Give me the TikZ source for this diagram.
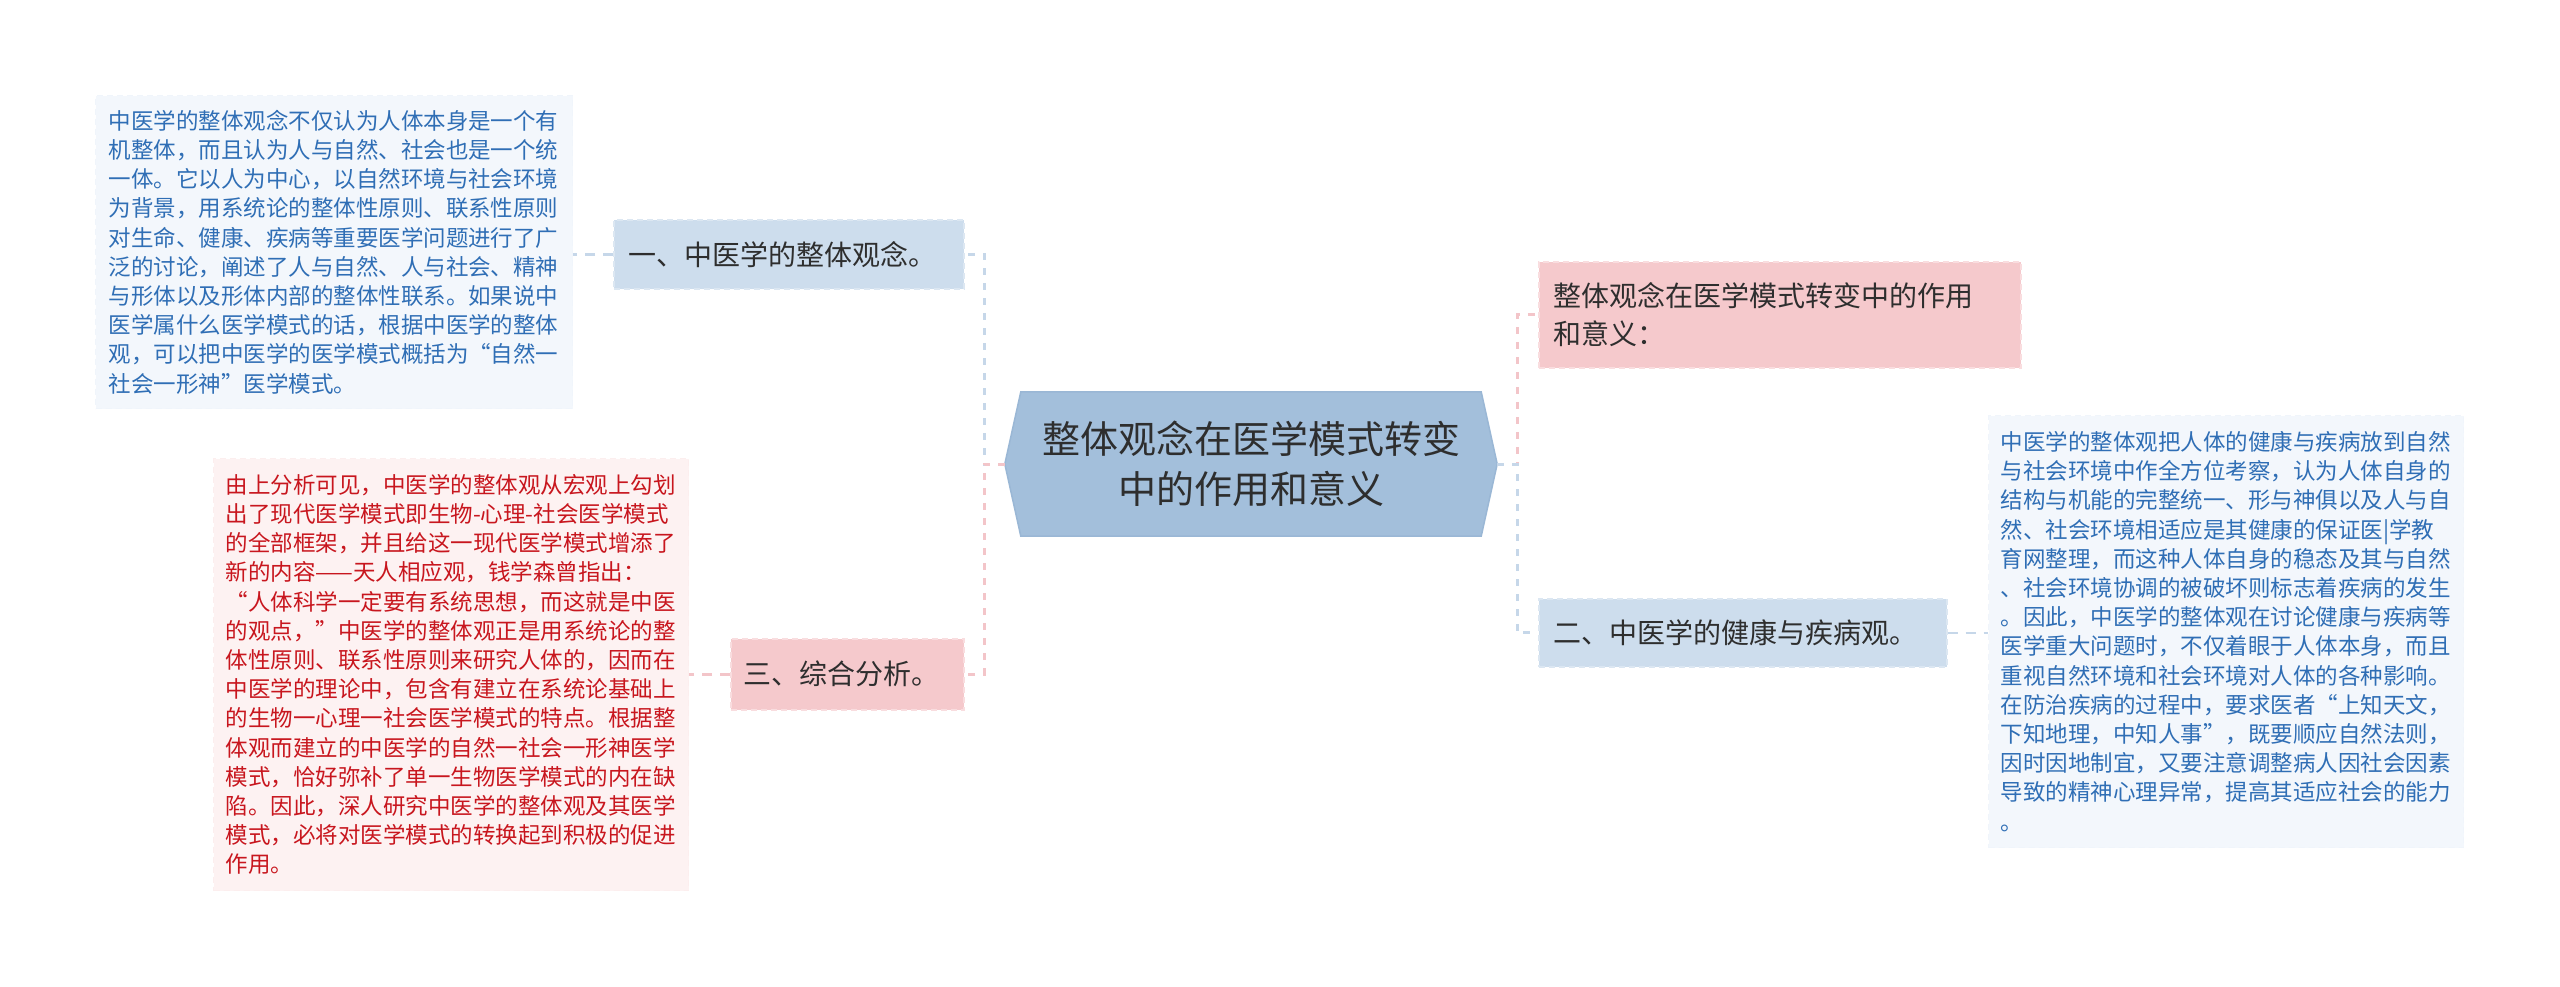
\documentclass[tikz,border=0pt]{standalone}
\usepackage{fontspec}
\setmainfont{Noto Sans CJK SC}
\usetikzlibrary{calc}
\definecolor{rootfill}{HTML}{A3BFDB}
\definecolor{rootline}{HTML}{9AB7D5}
\definecolor{bluefill}{HTML}{CDDDED}
\definecolor{blueline}{HTML}{DCE7F2}
\definecolor{pinkfill}{HTML}{F5C9CC}
\definecolor{pinkline}{HTML}{F9DDDF}
\definecolor{leafbluefill}{HTML}{F3F7FC}
\definecolor{leafblueline}{HTML}{F0F5FB}
\definecolor{leafpinkfill}{HTML}{FDF2F2}
\definecolor{leafpinkline}{HTML}{FCEEEE}
\definecolor{bluetext}{HTML}{2F6EB5}
\definecolor{redtext}{HTML}{C8161E}
\definecolor{darktext}{HTML}{2E2E2E}
\definecolor{blueconn}{HTML}{C6D7E9}
\definecolor{pinkconn}{HTML}{F3C5C9}
\pgfdeclarelayer{bg}
\pgfsetlayers{bg,main}
\begin{document}
\begin{tikzpicture}[x=1pt,y=-1pt,
  conn/.style={line width=3pt, dash pattern=on 7pt off 8pt},
  leafconn/.style={line width=2.5pt, dash pattern=on 10pt off 8pt},
  topic/.style={anchor=north west, inner xsep=15pt, inner ysep=0pt, align=left,
    font=\fontsize{28}{38}\selectfont, text=darktext, line width=1.5pt, dash pattern=on 6pt off 4pt},
  bluetopic/.style={topic, fill=bluefill, draw=blueline},
  pinktopic/.style={topic, fill=pinkfill, draw=pinkline},
  leaf/.style={anchor=north west, inner xsep=13pt, inner ysep=0pt, align=left,
    font=\fontsize{22.5}{29.2}\selectfont, line width=1pt, dash pattern=on 6pt off 4pt},
  leafblue/.style={leaf, fill=leafbluefill, draw=leafblueline, text=bluetext},
  leafpink/.style={leaf, fill=leafpinkfill, draw=leafpinkline, text=redtext},
  rootnode/.style={minimum width=492pt, minimum height=144pt, inner sep=0pt, align=center,
    font=\fontsize{38}{50}\selectfont, text=darktext}
]
\useasboundingbox (0,0) rectangle (2560,986);

% root
\node[rootnode] (root) at (1251,464) {整体观念在医学模式转变\\中的作用和意义};

% main topics
\node[bluetopic, text width=320pt, minimum height=69pt] (n1) at (613,219) {一、中医学的整体观念。};
\node[pinktopic, inner xsep=13pt, text width=207pt, minimum height=71pt] (n3) at (730,638) {三、综合分析。};
\node[pinktopic, text width=452pt, minimum height=106pt] (r1) at (1538,261) {整体观念在医学模式转变中的作用\\和意义：};
\node[bluetopic, text width=378pt, minimum height=68pt] (r2) at (1538,598) {二、中医学的健康与疾病观。};

% leaves
\node[leafblue, text width=451pt, minimum height=313pt] (l1) at (95,95) {中医学的整体观念不仅认为人体本身是一个有\\机整体，而且认为人与自然、社会也是一个统\\一体。它以人为中心，以自然环境与社会环境\\为背景，用系统论的整体性原则、联系性原则\\对生命、健康、疾病等重要医学问题进行了广\\泛的讨论，阐述了人与自然、人与社会、精神\\与形体以及形体内部的整体性联系。如果说中\\医学属什么医学模式的话，根据中医学的整体\\观，可以把中医学的医学模式概括为“自然一\\社会一形神”医学模式。};
\node[leafpink, inner xsep=12pt, text width=451pt, minimum height=432pt] (l2) at (213,458) {由上分析可见，中医学的整体观从宏观上勾划\\出了现代医学模式即生物-心理-社会医学模式\\的全部框架，并且给这一现代医学模式增添了\\新的内容——天人相应观，钱学森曾指出：\\“人体科学一定要有系统思想，而这就是中医\\的观点，”中医学的整体观正是用系统论的整\\体性原则、联系性原则来研究人体的，因而在\\中医学的理论中，包含有建立在系统论基础上\\的生物一心理一社会医学模式的特点。根据整\\体观而建立的中医学的自然一社会一形神医学\\模式，恰好弥补了单一生物医学模式的内在缺\\陷。因此，深人研究中医学的整体观及其医学\\模式，必将对医学模式的转换起到积极的促进\\作用。};
\node[leafblue, inner xsep=12pt, text width=451pt, minimum height=432pt] (l3) at (1988,415) {中医学的整体观把人体的健康与疾病放到自然\\与社会环境中作全方位考察，认为人体自身的\\结构与机能的完整统一、形与神俱以及人与自\\然、社会环境相适应是其健康的保证医|学教\\育网整理，而这种人体自身的稳态及其与自然\\、社会环境协调的被破坏则标志着疾病的发生\\。因此，中医学的整体观在讨论健康与疾病等\\医学重大问题时，不仅着眼于人体本身，而且\\重视自然环境和社会环境对人体的各种影响。\\在防治疾病的过程中，要求医者“上知天文，\\下知地理，中知人事”，既要顺应自然法则，\\因时因地制宜，又要注意调整病人因社会因素\\导致的精神心理异常，提高其适应社会的能力\\。};

\begin{pgfonlayer}{bg}
  \fill[white] (0,0) rectangle (2560,986);
  \draw[fill=rootfill, draw=rootline, line width=1.5pt]
    ([xshift=16pt]root.north west) -- ([xshift=-16pt]root.north east) -- (root.east)
    -- ([xshift=-16pt]root.south east) -- ([xshift=16pt]root.south west) -- (root.west) -- cycle;
\end{pgfonlayer}

% connectors
\coordinate (lx) at (984,0);
\coordinate (rx) at (1517,0);
\draw[conn, blueconn] (root.west) -- (root.west -| lx) |- (n1.east);
\draw[conn, pinkconn] (root.west) -- (root.west -| lx) |- (n3.east);
\draw[conn, pinkconn] (root.east) -- (root.east -| rx) |- (r1.west);
\draw[conn, blueconn] (root.east) -- (root.east -| rx) |- (r2.west);

\draw[leafconn, blueconn] (n1.west) -- (n1.west -| l1.east);
\draw[leafconn, pinkconn] (n3.west) -- (n3.west -| l2.east);
\draw[leafconn, blueconn] (r2.east) -- (r2.east -| l3.west);
\end{tikzpicture}
\end{document}
